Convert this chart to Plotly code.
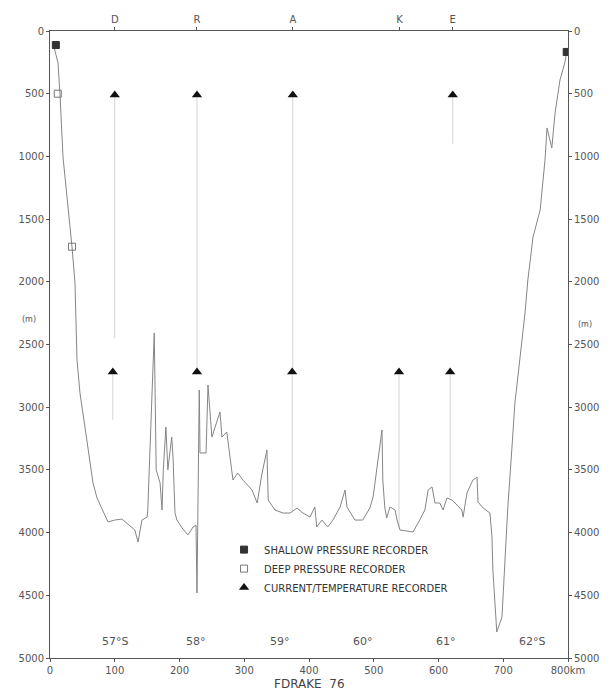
import plotly.graph_objects as go

# Bathymetric profile along FDRAKE 76 section (distance km, depth m)
profile_km = [4.6, 12.4, 15.4, 18.5, 20.1, 34, 38.6, 41.7, 46.3, 54, 58.7, 66.4, 72.6, 89.6, 100, 111,
              131, 136, 142, 150, 151, 161, 164, 170, 173, 175, 179, 182, 188, 190, 193, 196, 204, 213,
              221, 225.5, 227, 228.6, 230.5, 231.7, 241, 244, 250, 262.5, 265.6, 273, 278, 282.6, 290,
              298, 312, 320, 327, 335, 337, 347.5, 360, 370.7, 381.5, 390.7, 401.5, 409, 412, 420, 429,
              437, 448, 455.6, 458.7, 471, 483, 494, 499, 512.7, 514, 517, 520, 525, 533, 536, 540.5,
              560.6, 571, 579, 584, 590, 594.6, 602, 607, 613, 621, 628.6, 636, 638, 644, 653, 659.5,
              661, 669, 679.5, 682.6, 684, 687, 690, 698, 699.6, 702.7, 707, 713.5, 718, 726, 733.6,
              738, 746, 757, 761, 764.5, 767.6, 775, 780, 784.6, 787.6, 795, 798.5]
profile_depth = [96, 255, 502, 925, 1005, 1722, 2010, 2624, 2887, 3158, 3341, 3604, 3724, 3915, 3900, 3892,
                 3979, 4075, 3900, 3876, 3820, 2408, 3500, 3604, 3820, 3500, 3158, 3500, 3238, 3397, 3844,
                 3900, 3963, 4019, 3955, 3940, 4482, 3740, 2863, 3365, 3365, 2823, 3238, 3038, 3238, 3198,
                 3397, 3581, 3525, 3581, 3660, 3764, 3541, 3341, 3740, 3820, 3844, 3844, 3804, 3844, 3876,
                 3796, 3955, 3900, 3955, 3900, 3796, 3660, 3796, 3900, 3900, 3804, 3716, 3182, 3581, 3796,
                 3884, 3796, 3820, 3900, 3979, 3995, 3900, 3820, 3660, 3636, 3764, 3764, 3820, 3724, 3740,
                 3780, 3820, 3876, 3684, 3581, 3557, 3756, 3804, 3844, 4035, 4298, 4514, 4793, 4673, 4514,
                 4242, 3804, 3317, 2967, 2600, 2249, 1986, 1643, 1427, 1188, 1029, 773, 933, 654, 494, 391,
                 255, 152]

# Instruments
shallow_km = [9, 798]
shallow_depth = [112, 167]
deep_km = [12, 34]
deep_depth = [500, 1720]
current_upper_km = [100, 227, 375, 622]
current_upper_depth = [510, 510, 510, 510]
current_lower_km = [97, 227, 374, 539, 618]
current_lower_depth = [2720, 2720, 2720, 2720, 2720]

# Mooring lines (km, top depth, bottom depth)
mooring_km = [100, 97, 227, 375, 374, 539, 622, 618]
mooring_top = [530, 2740, 530, 530, 2740, 2740, 530, 2740]
mooring_bottom = [2450, 3100, 2700, 2700, 3840, 3960, 900, 3720]

# Axis labels
station_km = [100, 227, 375, 540, 622]
station_names = ["D", "R", "A", "K", "E"]
lat_km = [100, 225, 355, 483, 611, 745]
lat_names = ["57°S", "58°", "59°", "60°", "61°", "62°S"]
x_ticks = [0, 100, 200, 300, 400, 500, 600, 700, 800]
x_ticktext = ["0", "100", "200", "300", "400", "500", "600", "700", "800km"]
y_ticks = [0, 500, 1000, 1500, 2000, 2500, 3000, 3500, 4000, 4500, 5000]

FONT = "DejaVu Sans"
TXT = "#555555"

fig = go.Figure()

for k, t, b in zip(mooring_km, mooring_top, mooring_bottom):
    fig.add_trace(go.Scatter(x=[k, k], y=[t, b], mode="lines",
                             line=dict(color="#d4d4d4", width=1), showlegend=False,
                             hoverinfo="skip"))

fig.add_trace(go.Scatter(x=profile_km, y=profile_depth, mode="lines",
                         line=dict(color="#858585", width=1), showlegend=False))

fig.add_trace(go.Scatter(x=shallow_km, y=shallow_depth, mode="markers",
                         marker=dict(symbol="square", size=7, color="#333333",
                                     line=dict(color="#333333", width=1)),
                         name="SHALLOW PRESSURE RECORDER"))
fig.add_trace(go.Scatter(x=deep_km, y=deep_depth, mode="markers",
                         marker=dict(symbol="square-open", size=7, color="#777777",
                                     line=dict(width=1)),
                         name="DEEP PRESSURE RECORDER"))
fig.add_trace(go.Scatter(x=current_upper_km + current_lower_km,
                         y=current_upper_depth + current_lower_depth, mode="markers",
                         marker=dict(symbol="triangle-up", size=9, color="#111111"),
                         name="CURRENT/TEMPERATURE RECORDER"))

# dummy trace for top axis
fig.add_trace(go.Scatter(x=[0, 800], y=[0, 0], xaxis="x2", mode="markers",
                         marker=dict(opacity=0), showlegend=False, hoverinfo="skip"))
# dummy trace for right axis
fig.add_trace(go.Scatter(x=[0, 800], y=[0, 0], yaxis="y2", mode="markers",
                         marker=dict(opacity=0), showlegend=False, hoverinfo="skip"))

for k, name in zip(lat_km, lat_names):
    fig.add_annotation(x=k, y=4870, text=name, showarrow=False,
                       font=dict(family=FONT, size=11, color=TXT))

fig.add_annotation(xref="paper", yref="y", x=-0.04, y=2300, text="(m)", showarrow=False,
                   xanchor="center", font=dict(family=FONT, size=8, color=TXT))
fig.add_annotation(xref="paper", yref="y", x=1.033, y=2340, text="(m)", showarrow=False,
                   xanchor="center", font=dict(family=FONT, size=8, color=TXT))
fig.add_annotation(xref="paper", yref="paper", x=0.5, y=-0.041, yanchor="middle",
                   xanchor="center", text="FDRAKE  76", showarrow=False,
                   font=dict(family=FONT, size=12, color="#444444"))

axis_line = dict(showline=True, linecolor="#555555", linewidth=1, showgrid=False,
                 zeroline=False, ticks="outside", ticklen=3, tickcolor="#555555",
                 automargin=False,
                 tickfont=dict(family=FONT, size=10, color=TXT))

# page body has an 8px default margin, so the figure is sized to fit the window
fig.update_layout(
    width=602, height=689,
    margin=dict(l=42, r=42, t=23, b=39),
    paper_bgcolor="white", plot_bgcolor="white",
    xaxis=dict(range=[0, 800], tickvals=x_ticks, ticktext=x_ticktext, **axis_line),
    xaxis2=dict(range=[0, 800], overlaying="x", side="top", tickvals=station_km,
                ticktext=station_names, **axis_line),
    yaxis=dict(range=[5000, 0], tickvals=y_ticks, **axis_line),
    yaxis2=dict(range=[5000, 0], overlaying="y", side="right", tickvals=y_ticks, **axis_line),
    legend=dict(x=0.336, y=0.196, xanchor="left", yanchor="top", bgcolor="rgba(0,0,0,0)",
                font=dict(family=FONT, size=10, color="#333333"), tracegroupgap=0,
                itemwidth=30),
    font=dict(family=FONT),
)

fig.write_html("out.html")
